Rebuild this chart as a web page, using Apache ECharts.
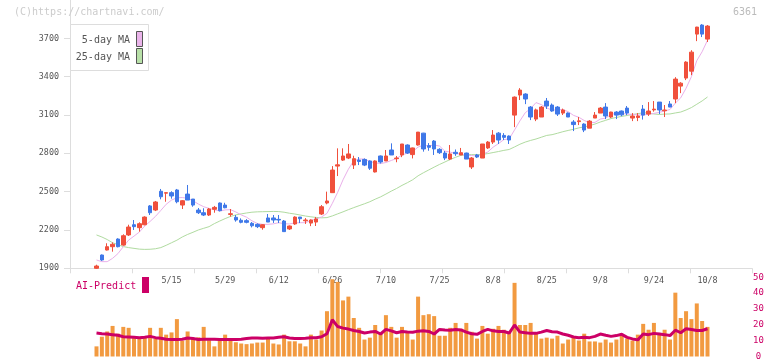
<!DOCTYPE html>
<html>
<head>
<meta charset="utf-8">
<script src="https://cdn.jsdelivr.net/npm/echarts@6/dist/echarts.min.js"></script>
<style>
html,body{margin:0;padding:0;background:#fff;}
#c{width:772px;height:361px;}
</style>
</head>
<body>
<div id="c"></div>
<script>
// ---- data ----
const dates = ['4/22','4/23','4/24','4/25','4/28','4/30','5/1','5/2','5/7','5/8',
 '5/9','5/12','5/13','5/14','5/15','5/16','5/19','5/20','5/21','5/22',
 '5/23','5/26','5/27','5/28','5/29','5/30','6/2','6/3','6/4','6/5',
 '6/6','6/9','6/10','6/11','6/12','6/13','6/16','6/17','6/18','6/19',
 '6/20','6/23','6/24','6/25','6/26','6/27','6/30','7/1','7/2','7/3',
 '7/4','7/7','7/8','7/9','7/10','7/11','7/14','7/15','7/16','7/17',
 '7/18','7/22','7/23','7/24','7/25','7/28','7/29','7/30','7/31','8/1',
 '8/4','8/5','8/6','8/7','8/8','8/12','8/13','8/14','8/15','8/18',
 '8/19','8/20','8/21','8/22','8/25','8/26','8/27','8/28','8/29','9/1',
 '9/2','9/3','9/4','9/5','9/8','9/9','9/10','9/11','9/12','9/16',
 '9/17','9/18','9/19','9/22','9/24','9/25','9/26','9/29','9/30','10/1',
 '10/2','10/3','10/6','10/7','10/8'];
const labelDates = ['5/15','5/29','6/12','6/26','7/10','7/25','8/8','8/25','9/8','9/24','10/8'];

const open = [1900,2004,2043,2069,2129,2082,2161,2241,2218,2241,
 2388,2356,2503,2488,2492,2513,2395,2481,2442,2356,
 2335,2317,2362,2411,2395,2322,2299,2276,2273,2252,
 2244,2218,2294,2294,2283,2270,2208,2247,2301,2272,
 2254,2262,2325,2411,2492,2700,2747,2763,2708,2747,
 2752,2740,2654,2779,2740,2826,2758,2787,2865,2790,
 2865,2958,2860,2896,2831,2802,2755,2808,2787,2802,
 2693,2787,2763,2842,2888,2958,2940,2935,3099,3256,
 3264,3162,3068,3084,3209,3178,3162,3115,3115,3045,
 3048,3029,2997,3076,3115,3162,3084,3123,3131,3154,
 3076,3080,3146,3107,3140,3201,3133,3186,3225,3326,
 3389,3443,3733,3804,3694];
const close = [1918,1965,2069,2088,2069,2155,2223,2226,2249,2301,
 2335,2419,2460,2492,2466,2421,2429,2434,2395,2335,
 2317,2364,2377,2351,2374,2327,2278,2260,2260,2233,
 2226,2241,2262,2278,2278,2187,2231,2301,2288,2278,
 2278,2286,2382,2427,2669,2710,2779,2795,2758,2736,
 2708,2683,2740,2732,2779,2787,2763,2873,2802,2842,
 2966,2834,2847,2834,2805,2763,2795,2797,2805,2755,
 2763,2771,2873,2888,2943,2904,2925,2904,3240,3295,
 3225,3084,3140,3162,3170,3131,3107,3139,3084,3025,
 3054,2982,3052,3099,3154,3092,3123,3099,3101,3115,
 3092,3092,3099,3131,3146,3139,3139,3162,3381,3349,
 3514,3592,3788,3733,3796];
const low = [1895,1958,2040,2030,2064,2077,2153,2200,2187,2236,
 2317,2348,2440,2421,2445,2409,2364,2434,2382,2325,
 2309,2309,2335,2345,2370,2304,2265,2252,2252,2220,
 2215,2202,2262,2255,2254,2187,2200,2240,2254,2247,
 2230,2231,2317,2401,2492,2622,2740,2755,2677,2708,
 2700,2670,2650,2720,2740,2787,2730,2770,2795,2760,
 2860,2813,2820,2787,2795,2747,2747,2780,2787,2755,
 2677,2763,2763,2834,2873,2873,2904,2873,3005,3217,
 3185,3060,3052,3084,3147,3125,3092,3100,3084,2974,
 3021,2966,2997,3076,3115,3068,3076,3068,3090,3099,
 3052,3052,3064,3092,3126,3107,3084,3162,3193,3271,
 3373,3412,3678,3710,3671];
const high = [1928,2008,2096,2103,2135,2166,2241,2278,2260,2307,
 2395,2427,2521,2495,2503,2521,2434,2552,2442,2372,
 2370,2372,2388,2415,2413,2364,2317,2291,2285,2262,
 2252,2245,2325,2317,2317,2278,2235,2307,2301,2293,
 2283,2301,2395,2500,2700,2839,2839,2873,2781,2771,
 2760,2745,2745,2783,2826,2878,2779,2873,2870,2845,
 2966,2960,2880,2904,2840,2818,2865,2830,2842,2805,
 2771,2795,2873,2896,2982,2966,2958,2940,3245,3310,
 3270,3170,3150,3170,3233,3190,3170,3150,3120,3060,
 3084,3035,3060,3123,3162,3193,3125,3130,3135,3170,
 3115,3115,3178,3201,3209,3201,3178,3209,3396,3357,
 3521,3607,3790,3811,3804];
const ma5 = [1965,1952,1952,1978,2015,2069,2121,2152,2184,2231,
 2267,2306,2353,2401,2434,2452,2454,2448,2429,2403,
 2382,2369,2358,2349,2357,2359,2341,2318,2300,2272,
 2251,2244,2244,2248,2257,2249,2247,2255,2257,2257,
 2275,2286,2302,2330,2408,2495,2593,2676,2742,2756,
 2755,2736,2725,2720,2728,2744,2760,2787,2801,2813,
 2849,2863,2858,2865,2857,2817,2809,2799,2793,2783,
 2783,2778,2793,2810,2848,2876,2907,2913,2983,3054,
 3118,3150,3197,3181,3156,3137,3142,3142,3126,3097,
 3082,3057,3039,3042,3068,3076,3104,3113,3114,3106,
 3106,3100,3100,3106,3112,3121,3131,3143,3193,3234,
 3309,3400,3525,3595,3685];
const ma25 = [2161,2145,2125,2100,2085,2070,2062,2056,2050,2048,
 2049,2053,2062,2080,2100,2120,2145,2165,2182,2200,
 2213,2226,2250,2270,2289,2306,2318,2326,2333,2339,
 2342,2343,2344,2345,2344,2339,2331,2325,2317,2309,
 2303,2298,2295,2297,2310,2326,2342,2359,2375,2390,
 2405,2421,2441,2459,2481,2504,2525,2549,2570,2593,
 2624,2648,2670,2692,2713,2732,2752,2769,2784,2788,
 2790,2789,2792,2798,2806,2814,2823,2830,2850,2871,
 2888,2901,2912,2926,2940,2946,2957,2969,2979,2988,
 2999,3007,3017,3029,3045,3058,3072,3081,3089,3096,
 3104,3110,3118,3114,3108,3104,3107,3108,3116,3123,
 3139,3158,3184,3210,3241];
const volume = [6.4,12.5,15.8,19.3,14.4,18.7,18.1,12.3,11.9,12.7,
 18.1,11.3,18.1,13.8,15.2,23.6,9.9,15.8,11.3,12.1,
 18.7,10.3,6.4,10.3,13.8,10.7,9.0,8.2,7.8,8.2,
 8.8,8.8,11.1,8.2,7.6,13.8,9.6,9.6,8.2,6.4,
 13.8,10.7,16.4,28.6,48.8,47.1,35.4,37.8,24.3,18.1,
 10.7,11.9,19.9,14.6,26.1,18.7,11.9,18.7,15.2,10.7,
 37.8,26.1,26.7,25.5,13.1,13.1,18.1,21.2,17.5,21.2,
 15.6,11.3,19.3,14.4,17.5,19.3,16.9,15.6,46.5,19.9,
 19.9,21.2,14.4,11.3,11.9,11.3,13.1,8.2,10.7,11.9,
 10.1,14.4,9.5,9.5,8.8,10.7,8.8,10.7,13.1,11.3,
 10.1,13.8,20.6,16.9,21.2,14.9,16.9,10.7,40.3,24.3,
 28.6,23.6,33.5,22.4,18.7];
const aiPredict = [14.8,14.4,14.2,13.8,13.4,12.5,12.3,12.1,11.9,12.1,
 12.7,11.9,11.5,10.9,10.7,10.7,10.9,11.7,11.3,10.7,
 10.9,10.9,10.9,10.7,10.7,10.7,10.7,10.9,11.3,11.7,
 11.7,11.5,11.7,11.7,12.1,12.5,11.7,11.3,11.3,11.5,
 11.9,11.9,12.5,14.4,23.2,18.9,17.9,17.3,16.4,15.8,
 14.8,15.4,15.8,14.2,17.1,16.2,15.0,15.8,15.4,15.3,
 16.0,16.2,15.8,14.2,17.1,16.8,16.6,17.1,16.8,15.4,
 14.4,14.0,15.8,17.1,16.2,15.8,15.8,14.8,19.9,15.4,
 15.0,14.6,14.6,15.4,16.4,15.6,15.4,14.2,13.4,12.3,
 11.9,12.1,11.9,12.7,14.2,13.4,12.7,13.2,14.0,12.1,
 11.1,10.5,14.2,13.8,14.6,14.2,13.8,13.2,16.6,15.0,
 17.5,17.1,16.4,16.4,17.5];

// ---- chart ----
const MONO = "'DejaVu Sans Mono', monospace";
const candleData = open.map((o, i) => [o, close[i], low[i], high[i]]);

const chart = echarts.init(document.getElementById('c'), null, {renderer: 'canvas'});
const slotLeft = 93.82, slotWidth = 616.36;

chart.setOption({
  animation: false,
  backgroundColor: '#fff',
  grid: [
    {left: slotLeft, width: slotWidth, top: 0, height: 268.3},
    {left: 70, width: 682, top: 0, height: 268.3},
    {left: slotLeft, width: slotWidth, top: 277.3, height: 81}
  ],
  xAxis: [
    {type: 'category', gridIndex: 0, data: dates, boundaryGap: true,
     axisLine: {show: false}, axisTick: {show: false}, splitLine: {show: false},
     axisLabel: {interval: (i, v) => labelDates.includes(v), color: '#555',
       fontSize: 8.4, fontFamily: MONO, margin: 9}},
    {type: 'value', gridIndex: 1, min: 0, max: 11, interval: 1,
     axisLine: {show: true, lineStyle: {color: '#dddddd'}},
     axisTick: {show: true, length: 5, lineStyle: {color: '#dddddd'}},
     axisLabel: {show: false}, splitLine: {show: false}},
    {type: 'category', gridIndex: 2, data: dates, boundaryGap: true, show: false}
  ],
  yAxis: [
    {type: 'value', gridIndex: 0, min: 1900, max: 4000, show: false, splitLine: {show: false}},
    {type: 'value', gridIndex: 1, min: 1900, max: 4000, interval: 300,
     axisLine: {show: true, lineStyle: {color: '#dddddd'}},
     axisTick: {show: true, length: 6, lineStyle: {color: '#dddddd'}},
     axisLabel: {color: '#555', fontSize: 8.4, fontFamily: MONO, margin: 11, showMaxLabel: false,
       formatter: v => String(v)},
     splitLine: {show: false}},
    {type: 'value', gridIndex: 2, position: 'right', offset: 41.82, min: 0, max: 50, interval: 10,
     axisLine: {show: false}, axisTick: {show: false}, splitLine: {show: false},
     axisLabel: {color: '#cc0066', fontSize: 9, fontFamily: MONO, align: 'center', margin: 6.5,
       formatter: v => String(v)}}
  ],
  series: [
    {type: 'line', name: '25-day MA', xAxisIndex: 0, yAxisIndex: 0, data: ma25,
     showSymbol: false, lineStyle: {color: '#b0dba0', width: 1}, z: 2},
    {type: 'line', name: '5-day MA', xAxisIndex: 0, yAxisIndex: 0, data: ma5,
     showSymbol: false, lineStyle: {color: '#eab0ea', width: 1}, z: 2},
    {type: 'candlestick', xAxisIndex: 0, yAxisIndex: 0, data: candleData, barWidth: 4, z: 3,
     itemStyle: {color: '#f0503c', color0: '#3f78e8', borderColor: '#f0503c', borderColor0: '#3f78e8', borderWidth: 1}},
    {type: 'bar', xAxisIndex: 2, yAxisIndex: 2, data: volume, barWidth: 4,
     itemStyle: {color: '#f29a40'}, z: 2},
    {type: 'line', name: 'AI-Predict', xAxisIndex: 2, yAxisIndex: 2, data: aiPredict,
     showSymbol: false, lineStyle: {color: '#cc0066', width: 3}, z: 3}
  ],
  graphic: [
    {type: 'text', left: 14, top: 7, z: 100,
     style: {text: '(C)https://chartnavi.com/', fill: '#cccccc', font: '10px ' + MONO}},
    {type: 'text', right: 15, top: 7, z: 100,
     style: {text: '6361', fill: '#bbbbbb', font: '10px ' + MONO}},
    {type: 'rect', z: 100, shape: {x: 70.5, y: 24.5, width: 78, height: 46},
     style: {fill: '#ffffff', stroke: '#dddddd', lineWidth: 1}},
    {type: 'text', z: 101, x: 130, y: 40,
     style: {text: '5-day MA', fill: '#555', font: '10px ' + MONO, textAlign: 'right', textVerticalAlign: 'middle'}},
    {type: 'text', z: 101, x: 130, y: 57,
     style: {text: '25-day MA', fill: '#555', font: '10px ' + MONO, textAlign: 'right', textVerticalAlign: 'middle'}},
    {type: 'rect', z: 101, shape: {x: 136.5, y: 31.5, width: 6, height: 15},
     style: {fill: '#eab4ea', stroke: '#555', lineWidth: 1}},
    {type: 'rect', z: 101, shape: {x: 136.5, y: 48.5, width: 6, height: 15},
     style: {fill: '#b8e0a8', stroke: '#555', lineWidth: 1}},
    {type: 'text', z: 101, x: 76, y: 286,
     style: {text: 'AI-Predict', fill: '#cc0066', font: '10px ' + MONO, textVerticalAlign: 'middle'}},
    {type: 'rect', z: 101, shape: {x: 142, y: 277, width: 7, height: 16},
     style: {fill: '#cc0066'}}
  ]
});
</script>
</body>
</html>
